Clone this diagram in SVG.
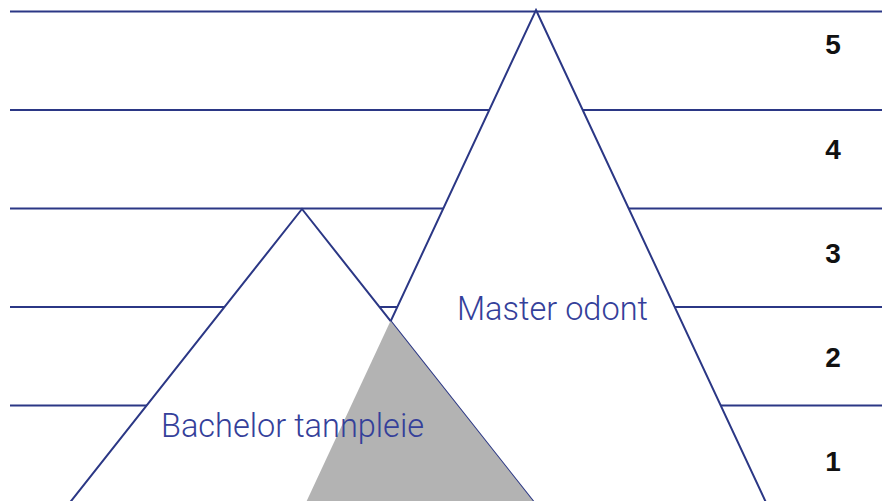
<svg xmlns="http://www.w3.org/2000/svg" width="882" height="501" viewBox="0 0 882 501">
<style>
.hl{stroke:#2b3785;stroke-width:2;fill:none}
.tri{fill:#ffffff;stroke:#2b3785;stroke-width:2;stroke-linejoin:miter}
.lbl{font-family:Roboto,"Liberation Sans",sans-serif;font-weight:300;font-size:32.5px;fill:#34409a}
.num{font-family:"Liberation Sans",Arial,sans-serif;font-weight:bold;font-size:28px;fill:#111111;text-anchor:middle}
</style>
<rect width="882" height="501" fill="#ffffff"/>
<g id="connectors">
<line class="hl" x1="10" y1="11.5" x2="882" y2="11.5"/>
<line class="hl" x1="10" y1="110" x2="882" y2="110"/>
<line class="hl" x1="10" y1="208.5" x2="882" y2="208.5"/>
<line class="hl" x1="10" y1="307" x2="882" y2="307"/>
<line class="hl" x1="10" y1="405.5" x2="882" y2="405.5"/>
</g>
<g id="master">
<polygon class="tri" points="536,10 769.5,510 302.5,510"/>
</g>
<g id="bachelor">
<polygon class="tri" points="302,209 540,510 64,510"/>
</g>
<g id="overlap">
<polygon points="390.5,321 540,510 302.5,510" fill="#b3b3b3"/>
</g>
<g id="labels">
<text class="lbl" x="457" y="320">Master odont</text>
<text class="lbl" x="161" y="437">Bachelor tannpleie</text>
</g>
<g id="levels">
<text class="num" x="833" y="54">5</text>
<text class="num" x="833" y="159">4</text>
<text class="num" x="833" y="263">3</text>
<text class="num" x="833" y="367">2</text>
<text class="num" x="833" y="471">1</text>
</g>
</svg>
